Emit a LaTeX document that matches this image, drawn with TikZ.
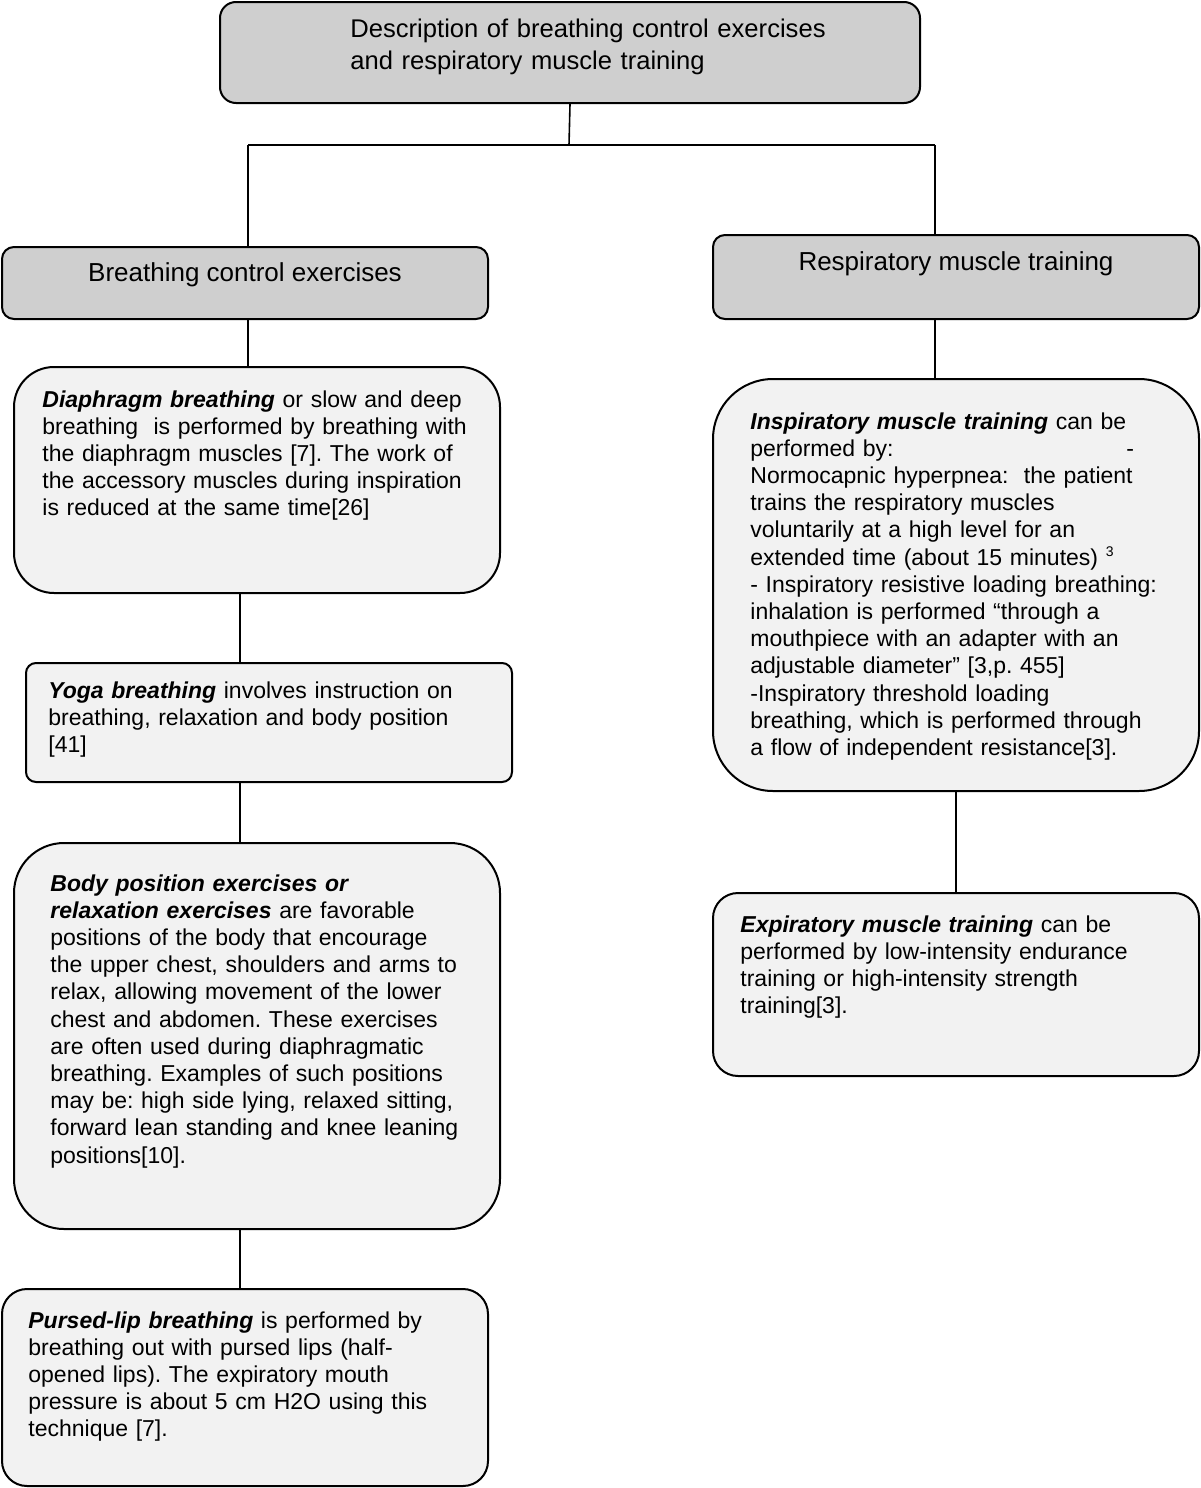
\documentclass[tikz,border=0pt]{standalone}
\usepackage{fontspec}
\setmainfont{Liberation Sans}
\newcommand{\bi}[1]{\textbf{\textit{#1}}}
\tikzset{
  boxbase/.style={draw, line width=1pt, inner sep=0pt, anchor=north west},
  graybox/.style={boxbase, fill=black!19},
  lightbox/.style={boxbase, fill=black!5},
  txt/.style={anchor=base west, inner sep=0pt, align=left, text width=240pt,
    font=\fontsize{11.5}{13.6}\selectfont\frenchspacing},
  head/.style={anchor=base, inner sep=0pt, font=\fontsize{13}{15}\selectfont},
  conn/.style={line width=0.8pt},
}
\begin{document}
\begin{tikzpicture}[x=0.5pt,y=-0.5pt]
\useasboundingbox (0,0) rectangle (1200,1488);
% boxes
\node[graybox, rounded corners=8pt, minimum width=350pt, minimum height=50.5pt] (top) at (219,1) {};
\node[graybox, rounded corners=6pt, minimum width=243pt, minimum height=36pt] (bce) at (1,246) {};
\node[graybox, rounded corners=6pt, minimum width=243pt, minimum height=42pt] (rmt) at (712,234) {};
\node[lightbox, rounded corners=20pt, minimum width=243pt, minimum height=113pt] (dia) at (13,366) {};
\node[lightbox, rounded corners=5pt, minimum width=243pt, minimum height=59.5pt] (yoga) at (25,662) {};
\node[lightbox, rounded corners=25pt, minimum width=243pt, minimum height=193pt] (body) at (13,842) {};
\node[lightbox, rounded corners=12.5pt, minimum width=243pt, minimum height=98.5pt] (purs) at (1,1288) {};
\node[lightbox, rounded corners=30pt, minimum width=243pt, minimum height=206pt] (insp) at (712,378) {};
\node[lightbox, rounded corners=12.5pt, minimum width=243pt, minimum height=91.5pt] (expi) at (712,892) {};
% texts
\node[txt, text width=280pt, font=\fontsize{12.8}{16}\selectfont] (ttop) at (350,38) {Description of breathing control exercises\\and respiratory muscle training};
\node[head] (tbce) at (245,281) {Breathing control exercises};
\node[head] (trmt) at (956,270) {Respiratory muscle training};
\node[txt] (tdia) at (42,407) {\bi{Diaphragm breathing} or slow and deep\\
breathing\ \ is performed by breathing with\\
the diaphragm muscles [7]. The work of\\
the accessory muscles during inspiration\\
is reduced at the same time[26]};
\node[txt] (tyoga) at (48,698) {\bi{Yoga breathing} involves instruction on\\
breathing, relaxation and body position\\{}
[41]};
\node[txt] (tbody) at (50,891) {\bi{Body position exercises or}\\
\bi{relaxation exercises} are favorable\\
positions of the body that encourage\\
the upper chest, shoulders and arms to\\
relax, allowing movement of the lower\\
chest and abdomen. These exercises\\
are often used during diaphragmatic\\
breathing. Examples of such positions\\
may be: high side lying, relaxed sitting,\\
forward lean standing and knee leaning\\
positions[10].};
\node[txt] (tpurs) at (28,1328) {\bi{Pursed-lip breathing} is performed by\\
breathing out with pursed lips (half-\\
opened lips). The expiratory mouth\\
pressure is about 5 cm H2O using this\\
technique [7].};
\node[txt] (tinsp) at (750,429) {\bi{Inspiratory muscle training} can be\\
\makebox[188pt][l]{performed by:}-\\
Normocapnic hyperpnea:\ \ the patient\\
trains the respiratory muscles\\
voluntarily at a high level for an\\
extended time (about 15 minutes) \textsuperscript{\scriptsize 3}\\
- Inspiratory resistive loading breathing:\\
inhalation is performed “through a\\
mouthpiece with an adapter with an\\
adjustable diameter” [3,p. 455]\\
-Inspiratory threshold loading\\
breathing, which is performed through\\
a flow of independent resistance[3].};
\node[txt] (texp) at (740,932) {\bi{Expiratory muscle training} can be\\
performed by low-intensity endurance\\
training or high-intensity strength\\
training[3].};
% connectors
\coordinate (jC) at (569,145);
\coordinate (jL) at (248,145);
\coordinate (jR) at (935,145);
\coordinate (cL) at (240,0);
\draw[conn] (top.south) -- (jC);
\draw[conn] (jL) -- (jR);
\draw[conn] (jL) -- (jL |- bce.north);
\draw[conn] (jR) -- (jR |- rmt.north);
\draw[conn] (jL |- bce.south) -- (jL |- dia.north);
\draw[conn] (cL |- dia.south) -- (cL |- yoga.north);
\draw[conn] (cL |- yoga.south) -- (cL |- body.north);
\draw[conn] (cL |- body.south) -- (cL |- purs.north);
\draw[conn] (jR |- rmt.south) -- (jR |- insp.north);
\draw[conn] (insp.south) -- (expi.north);
\end{tikzpicture}
\end{document}
